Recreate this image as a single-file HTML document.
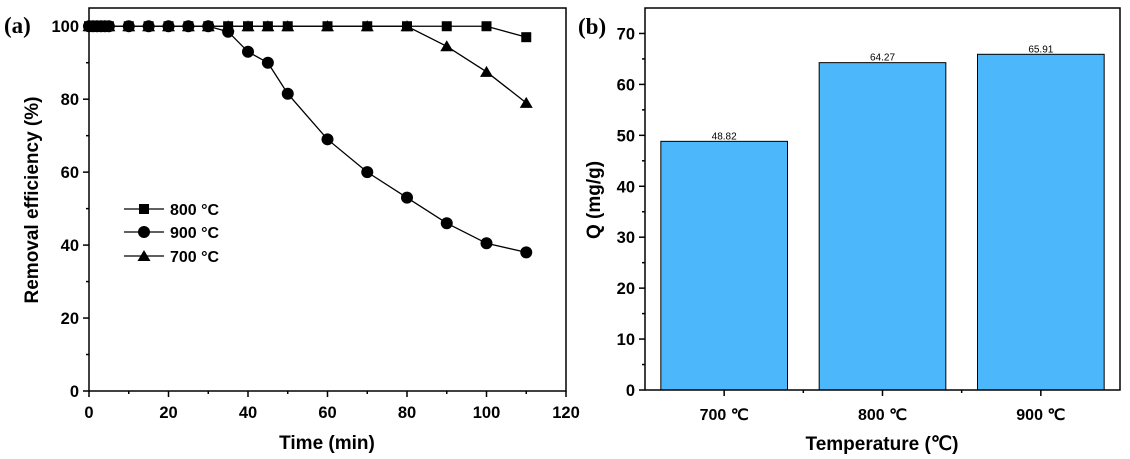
<!DOCTYPE html>
<html><head><meta charset="utf-8"><style>
html,body{margin:0;padding:0;background:#fff;}
svg{display:block;font-family:"Liberation Sans",Arial,sans-serif;}
</style></head><body>
<svg id="chart" width="1130" height="459" viewBox="0 0 1130 459" xmlns="http://www.w3.org/2000/svg"></svg>
<script>
// Panel (a) data
const timeX = [0,1,2,3,4,5,10,15,20,25,30,35,40,45,50,60,70,80,90,100,110];
const eff800 = [100,100,100,100,100,100,100,100,100,100,100,100,100,100,100,100,100,100,100,100,97];
const eff900 = [100,100,100,100,100,100,100,100,100,100,100,98.5,93,90,81.5,69,60,53,46,40.5,38];
const eff700 = [100,100,100,100,100,100,100,100,100,100,100,100,100,100,100,100,100,100,94.5,87.5,79];
const xTicksA = [0,20,40,60,80,100,120];
const yTicksA = [0,20,40,60,80,100];
// Panel (b) data
const tempCats = ["700 \u2103","800 \u2103","900 \u2103"];
const qValues = [48.82,64.27,65.91];
const qLabels = ["48.82","64.27","65.91"];
const yTicksB = [0,10,20,30,40,50,60,70];

const NS="http://www.w3.org/2000/svg";
const svg=document.getElementById('chart');
function mk(tag,attrs,parent,text){const e=document.createElementNS(NS,tag);for(const k in attrs)e.setAttribute(k,attrs[k]);if(text!==undefined)e.textContent=text;(parent||svg).appendChild(e);return e;}

// ---- Panel A ----
const A={l:89,r:566,t:8,b:391};
const ax=v=>A.l+(v-0)/(120-0)*(A.r-A.l);
const ay=v=>A.b-(v-0)/(105)*(A.b-A.t);
const gA=mk('g',{});


const frameA=mk('rect',{x:A.l,y:A.t,width:A.r-A.l,height:A.b-A.t,fill:'none',stroke:'#000','stroke-width':1.5},gA);


for(let v=0;v<=120;v+=10){const major=v%20===0;mk('line',{x1:ax(v),x2:ax(v),y1:A.b,y2:A.b+(major?6:3),stroke:'#000','stroke-width':1.5},gA);}
xTicksA.forEach(v=>{const t=mk('text',{x:ax(v),y:418,'text-anchor':'middle','font-size':16.5,'font-weight':'bold'},gA,String(v));});
for(let v=0;v<=100;v+=10){const major=v%20===0;mk('line',{x1:A.l,x2:A.l-(major?6:3),y1:ay(v),y2:ay(v),stroke:'#000','stroke-width':1.5},gA);}
yTicksA.forEach(v=>{const t=mk('text',{x:79,y:ay(v)+6,'text-anchor':'end','font-size':16.5,'font-weight':'bold'},gA,String(v));});
const xtA=mk('text',{x:327,y:449,'text-anchor':'middle','font-size':19,'font-weight':'bold'},gA,'Time (min)');

const ytA=mk('text',{x:0,y:0,transform:'translate(38,200) rotate(-90)','text-anchor':'middle','font-size':19,'font-weight':'bold'},gA,'Removal efficiency (%)');

const la=mk('text',{x:4,y:33,'font-size':23,'font-weight':'bold','font-family':'"Liberation Serif",serif'},gA,'(a)');


function marker(type,x,y,parent){
  if(type==='sq') return mk('rect',{x:x-5,y:y-5,width:10,height:10,fill:'#000'},parent);
  if(type==='ci') return mk('circle',{cx:x,cy:y,r:6,fill:'#000'},parent);
  return mk('polygon',{points:`${x},${y-6} ${x-6.5},${y+5} ${x+6.5},${y+5}`,fill:'#000'},parent);
}
const series=[{name:'series-800',vals:eff800,m:'sq'},{name:'series-900',vals:eff900,m:'ci'},{name:'series-700',vals:eff700,m:'tr'}];
series.forEach(s=>{
  const g=mk('g',{},gA);
  
  
  mk('polyline',{points:timeX.map((x,i)=>ax(x)+','+ay(s.vals[i])).join(' '),fill:'none',stroke:'#000','stroke-width':1.3},g);
  timeX.forEach((x,i)=>{const p=marker(s.m,ax(x),ay(s.vals[i]),g);});
});
const legend=[['800 \u00B0C','sq',209],['900 \u00B0C','ci',232],['700 \u00B0C','tr',256]];
legend.forEach(l=>{
  const g=mk('g',{},gA);
  
  
  mk('line',{x1:124,x2:164,y1:l[2],y2:l[2],stroke:'#000','stroke-width':1.3},g);
  marker(l[1],144,l[2],g);
  mk('text',{x:170,y:l[2]+6,'font-size':16,'font-weight':'bold'},g,l[0]);
});

// ---- Panel B ----
const B={l:645,r:1120,t:8,b:390};
const bx=i=>B.l+(i+0.5)*(B.r-B.l)/3;
const by=v=>B.b-v/75*(B.b-B.t);
const gB=mk('g',{});


const bw=(B.r-B.l)/3*0.8;
qValues.forEach((v,i)=>{
  const r=mk('rect',{x:bx(i)-bw/2,y:by(v),width:bw,height:B.b-by(v),fill:'#4cb8fb',stroke:'#000','stroke-width':1},gB);
  
  
  const t=mk('text',{x:bx(i),y:by(v)-2,'text-anchor':'middle','font-size':10},gB,qLabels[i]);
  
  
});
const frameB=mk('rect',{x:B.l,y:B.t,width:B.r-B.l,height:B.b-B.t,fill:'none',stroke:'#000','stroke-width':1.5},gB);


for(let v=0;v<=70;v+=5){const major=v%10===0;mk('line',{x1:B.l,x2:B.l-(major?6:3),y1:by(v),y2:by(v),stroke:'#000','stroke-width':1.5},gB);}
yTicksB.forEach(v=>{const t=mk('text',{x:635,y:by(v)+6,'text-anchor':'end','font-size':16.5,'font-weight':'bold'},gB,String(v));});
for(let i=0;i<3;i++){mk('line',{x1:bx(i),x2:bx(i),y1:B.b,y2:B.b+6,stroke:'#000','stroke-width':1.5},gB);}
for(let i=1;i<3;i++){const xx=B.l+i*(B.r-B.l)/3;mk('line',{x1:xx,x2:xx,y1:B.b,y2:B.b+3,stroke:'#000','stroke-width':1.5},gB);}
tempCats.forEach((c,i)=>{const t=mk('text',{x:bx(i),y:420,'text-anchor':'middle','font-size':16,'font-weight':'bold'},gB,c);});
const xtB=mk('text',{x:882,y:450,'text-anchor':'middle','font-size':19,'font-weight':'bold'},gB,'Temperature (\u2103)');

const ytB=mk('text',{x:0,y:0,transform:'translate(600,200) rotate(-90)','text-anchor':'middle','font-size':19,'font-weight':'bold'},gB,'Q (mg/g)');

const lb=mk('text',{x:578,y:34,'font-size':23,'font-weight':'bold','font-family':'"Liberation Serif",serif'},gB,'(b)');

</script>
</body></html>
